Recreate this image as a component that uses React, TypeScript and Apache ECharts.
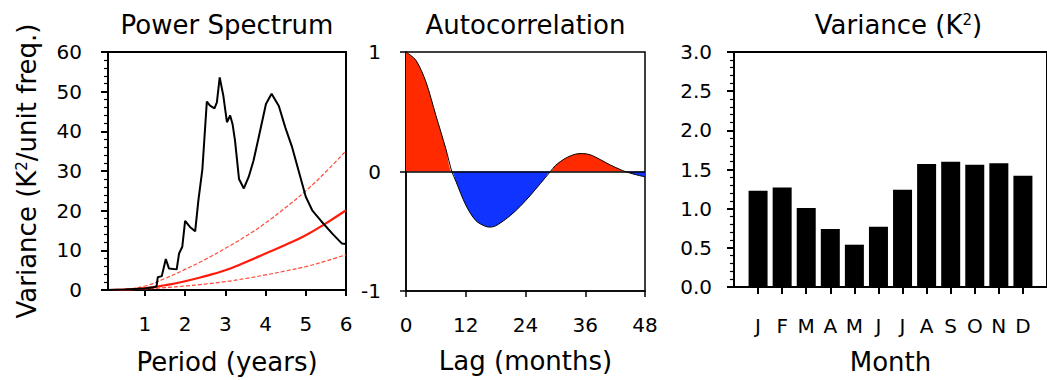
import React, { useEffect, useRef } from 'react';
import * as echarts from 'echarts';

const FONT = '"DejaVu Sans", "Liberation Sans", sans-serif';

// Panel 1: power spectrum
const periodYears = [0.083, 0.5, 1.0, 1.2, 1.29, 1.32, 1.42, 1.52, 1.6, 1.79, 1.85, 1.93, 2.0, 2.12, 2.25, 2.33, 2.43, 2.54, 2.62, 2.73, 2.79, 2.86, 2.95, 3.04, 3.12, 3.18, 3.24, 3.34, 3.46, 3.58, 3.7, 3.83, 4.01, 4.15, 4.33, 4.49, 4.66, 4.82, 5.0, 5.16, 5.38, 5.66, 5.9, 6.0];
const powerSpectrum = [0, 0.1, 0.4, 0.7, 0.9, 3.2, 3.5, 7.8, 5.4, 5.2, 9.2, 10.9, 17.4, 15.9, 14.8, 22.6, 30.5, 47.5, 46.5, 45.8, 47.3, 53.6, 49, 42.3, 44.0, 41.8, 37.7, 28, 25.6, 28.5, 32.6, 38.5, 46.9, 49.5, 46.4, 41, 36, 30.1, 23.5, 20.1, 17.4, 14.2, 11.7, 11.6];
const theoryPeriod = [0.083, 0.5, 1, 1.5, 2, 2.5, 3, 3.5, 4, 4.5, 5, 5.5, 6];
const redNoise = [0, 0.1, 0.45, 1.2, 2.2, 3.5, 5.0, 7.0, 9.2, 11.4, 13.8, 16.8, 20.1];
const redNoiseUpper = [0, 0.2, 1.0, 2.9, 5.2, 7.7, 10.5, 13.5, 16.9, 20.8, 25.0, 29.8, 35.1];
const redNoiseLower = [0, 0.05, 0.25, 0.6, 1.0, 1.5, 2.1, 2.9, 3.8, 4.8, 5.9, 7.3, 8.9];
const periodTicks = [1, 2, 3, 4, 5, 6];

// Panel 2: autocorrelation
const lagMonths = [0, 2, 4, 6, 8, 9.2, 10, 12, 14, 16, 17, 18, 20, 22, 24, 26, 28, 29, 30, 32, 34, 35.5, 37, 39, 41, 43, 44, 46, 48];
const autocorr = [1.0, 0.93, 0.75, 0.47, 0.19, 0, -0.08, -0.28, -0.41, -0.46, -0.465, -0.455, -0.4, -0.33, -0.245, -0.15, -0.05, 0, 0.05, 0.11, 0.145, 0.15, 0.14, 0.1, 0.055, 0.017, 0, -0.025, -0.045];

// Panel 3: monthly variance
const months = ['J', 'F', 'M', 'A', 'M', 'J', 'J', 'A', 'S', 'O', 'N', 'D'];
const monthlyVariance = [1.23, 1.27, 1.01, 0.74, 0.54, 0.77, 1.24, 1.57, 1.6, 1.56, 1.58, 1.42];
const monthPositions = [1, 2, 3, 4, 5, 6, 7, 8, 9, 10, 11, 12];

export default function App() {
  const ref = useRef<HTMLDivElement>(null);
  useEffect(() => {
    const chart = echarts.init(ref.current!, null, { renderer: 'svg', width: 1047, height: 380 });
    const black = '#000';
    const lbl = (margin: number, extra: any = {}) => ({ margin, fontSize: 20, color: black, fontFamily: FONT, ...extra });
    const nameStyle = {
      fontSize: 26,
      color: black,
      fontFamily: FONT,
      rich: { sup: { fontSize: 15, verticalAlign: 'top', color: black, fontFamily: FONT, padding: [0, 0, 8, 0] } },
    };
    const titleStyle = { fontSize: 26, fontWeight: 'normal', color: black, fontFamily: FONT, rich: nameStyle.rich };
    const posPart = autocorr.map((v, i) => [lagMonths[i], Math.max(v, 0)]);
    const negPart = autocorr.map((v, i) => [lagMonths[i], Math.min(v, 0)]);
    const minorTick = { show: true, splitNumber: 5, length: 4, lineStyle: { color: black, width: 1.2 } };

    const option: any = {
      animation: false,
      backgroundColor: '#fff',
      title: [
        { text: 'Power Spectrum', left: 227, top: 12, textAlign: 'center', padding: 0, textStyle: titleStyle },
        { text: 'Autocorrelation', left: 525.5, top: 12, textAlign: 'center', padding: 0, textStyle: titleStyle },
        { text: 'Variance (K{sup|2})', left: 898.5, top: 12, textAlign: 'center', padding: 0, textStyle: titleStyle },
      ],
      grid: [
        { left: 108, top: 52, width: 238, height: 239, show: true, borderColor: black, borderWidth: 2, backgroundColor: 'transparent' },
        { left: 406, top: 52, width: 239, height: 239, show: true, borderColor: black, borderWidth: 1.5, backgroundColor: 'transparent' },
        { left: 734, top: 52, width: 329, height: 239, show: true, borderColor: black, borderWidth: 2, backgroundColor: 'transparent' },
      ],
      xAxis: [
        {
          gridIndex: 0, type: 'value', min: 0.083, max: 6,
          axisLine: { show: true, onZero: false, lineStyle: { color: black, width: 2 } },
          axisTick: { show: true, inside: false, length: 6, customValues: periodTicks, lineStyle: { color: black, width: 2 } },
          axisLabel: lbl(24, { customValues: periodTicks }),
          splitLine: { show: false },
          name: 'Period (years)', nameLocation: 'middle', nameGap: 59, nameTextStyle: nameStyle,
        },
        {
          gridIndex: 1, type: 'value', min: 0, max: 48, interval: 12,
          axisLine: { show: true, onZero: false, lineStyle: { color: black, width: 1.5 } },
          axisTick: { show: true, inside: false, length: 6, lineStyle: { color: black, width: 1.5 } },
          axisLabel: lbl(24),
          splitLine: { show: false },
          name: 'Lag (months)', nameLocation: 'middle', nameGap: 57, nameTextStyle: nameStyle,
        },
        {
          gridIndex: 2, type: 'value', min: 0, max: 13,
          axisLine: { show: true, onZero: false, lineStyle: { color: black, width: 2 } },
          axisTick: { show: true, inside: false, length: 7, customValues: monthPositions, lineStyle: { color: black, width: 2 } },
          axisLabel: lbl(29, { customValues: monthPositions, formatter: (v: number) => months[Math.round(v) - 1] ?? '' }),
          splitLine: { show: false },
          name: 'Month', nameLocation: 'middle', nameGap: 62, nameTextStyle: nameStyle,
        },
      ],
      yAxis: [
        {
          gridIndex: 0, type: 'value', min: 0, max: 60, interval: 10,
          axisLine: { show: true, onZero: false, lineStyle: { color: black, width: 2 } },
          axisTick: { show: true, inside: false, length: 7, lineStyle: { color: black, width: 2 } },
          minorTick,
          axisLabel: lbl(26),
          splitLine: { show: false }, minorSplitLine: { show: false },
          name: 'Variance (K{sup|2}/unit freq.)', nameLocation: 'middle', nameGap: 68, nameRotate: 90, nameTextStyle: nameStyle,
        },
        {
          gridIndex: 1, type: 'value', min: -1, max: 1, interval: 1,
          axisLine: { show: true, onZero: false, lineStyle: { color: black, width: 1.5 } },
          axisTick: { show: true, inside: false, length: 6, lineStyle: { color: black, width: 1.5 } },
          axisLabel: lbl(25),
          splitLine: { show: false },
        },
        {
          gridIndex: 2, type: 'value', min: 0, max: 3, interval: 0.5,
          axisLine: { show: true, onZero: false, lineStyle: { color: black, width: 2 } },
          axisTick: { show: true, inside: false, length: 7, lineStyle: { color: black, width: 2 } },
          minorTick,
          axisLabel: lbl(22, { formatter: (v: number) => v.toFixed(1) }),
          splitLine: { show: false }, minorSplitLine: { show: false },
        },
      ],
      series: [
        {
          name: 'Red noise upper', type: 'line', xAxisIndex: 0, yAxisIndex: 0, smooth: true, symbol: 'none',
          data: theoryPeriod.map((x, i) => [x, redNoiseUpper[i]]),
          lineStyle: { color: '#ff4a3a', width: 1.2, type: [4, 2] }, z: 2,
        },
        {
          name: 'Red noise lower', type: 'line', xAxisIndex: 0, yAxisIndex: 0, smooth: true, symbol: 'none',
          data: theoryPeriod.map((x, i) => [x, redNoiseLower[i]]),
          lineStyle: { color: '#ff4a3a', width: 1.2, type: [4, 2] }, z: 2,
        },
        {
          name: 'Red noise', type: 'line', xAxisIndex: 0, yAxisIndex: 0, smooth: true, symbol: 'none',
          data: theoryPeriod.map((x, i) => [x, redNoise[i]]),
          lineStyle: { color: '#ff1a0a', width: 2.2 }, z: 3,
        },
        {
          name: 'Spectrum', type: 'line', xAxisIndex: 0, yAxisIndex: 0, symbol: 'none',
          data: periodYears.map((x, i) => [x, powerSpectrum[i]]),
          lineStyle: { color: black, width: 2 }, z: 4,
        },
        {
          name: 'ACF positive', type: 'line', xAxisIndex: 1, yAxisIndex: 1, smooth: 0.3, symbol: 'none',
          data: posPart, lineStyle: { width: 0 }, areaStyle: { color: '#ff2a00', opacity: 1 }, z: 2,
        },
        {
          name: 'ACF negative', type: 'line', xAxisIndex: 1, yAxisIndex: 1, smooth: 0.3, symbol: 'none',
          data: negPart, lineStyle: { width: 0 }, areaStyle: { color: '#1133ff', opacity: 1 }, z: 2,
        },
        {
          name: 'ACF', type: 'line', xAxisIndex: 1, yAxisIndex: 1, smooth: 0.3, symbol: 'none',
          data: lagMonths.map((x, i) => [x, autocorr[i]]),
          lineStyle: { color: black, width: 1 }, z: 3,
          markLine: {
            silent: true, symbol: ['none', 'none'], label: { show: false },
            lineStyle: { color: black, width: 1.5, type: 'solid' }, data: [{ yAxis: 0 }],
          },
        },
        {
          name: 'Monthly variance', type: 'bar', xAxisIndex: 2, yAxisIndex: 2, barWidth: 19,
          data: monthPositions.map((x, i) => [x, monthlyVariance[i]]),
          itemStyle: { color: black },
        },
      ],
    };
    chart.setOption(option);
    return () => chart.dispose();
  }, []);
  return <div ref={ref} style={{ position: 'absolute', left: 0, top: 0, width: 1047, height: 380, background: '#fff' }} />;
}
